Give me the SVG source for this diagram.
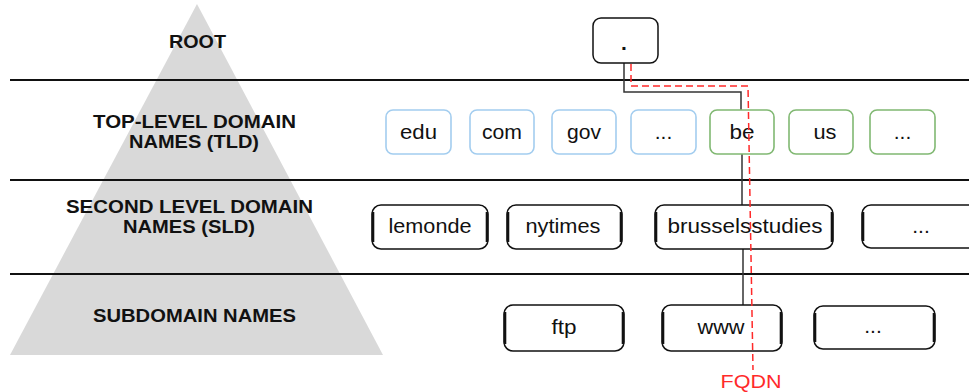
<svg xmlns="http://www.w3.org/2000/svg" width="969" height="392" viewBox="0 0 969 392">
<style>
.lbl{font-family:"Liberation Sans",Arial,sans-serif;font-weight:bold;font-size:18px;fill:#111;text-anchor:middle}
.t{font-family:"Liberation Sans",Arial,sans-serif;font-size:21px;fill:#111;text-anchor:middle}
.sep{stroke:#111;stroke-width:2;fill:none}
.blue{fill:#fff;stroke:#a3cdef;stroke-width:1.6}
.green{fill:#fff;stroke:#80b872;stroke-width:1.6}
.blk{fill:#fff;stroke:#111;stroke-width:1.5}
.side{stroke:#111;stroke-width:2.6;fill:none}
.conn{stroke:#333;stroke-width:1.5;fill:none}
.fq{stroke:#ff2a2a;stroke-width:1.5;fill:none;stroke-dasharray:7,4}
</style>
<rect width="969" height="392" fill="#fff"/>
<polygon points="197,4 10,355 383,355" fill="#d9d9d9"/>
<g id="separators">
<line class="sep" x1="10" y1="80" x2="969" y2="80"/>
<line class="sep" x1="10" y1="180" x2="969" y2="180"/>
<line class="sep" x1="10" y1="274" x2="969" y2="274"/>
</g>
<g id="level-labels">
<text class="lbl" x="197.5" y="48" textLength="57" lengthAdjust="spacingAndGlyphs">ROOT</text>
<text class="lbl" x="194.5" y="128" textLength="203" lengthAdjust="spacingAndGlyphs">TOP-LEVEL DOMAIN</text>
<text class="lbl" x="194" y="148" textLength="130" lengthAdjust="spacingAndGlyphs">NAMES (TLD)</text>
<text class="lbl" x="189.5" y="213" textLength="247" lengthAdjust="spacingAndGlyphs">SECOND LEVEL DOMAIN</text>
<text class="lbl" x="189" y="233" textLength="132" lengthAdjust="spacingAndGlyphs">NAMES (SLD)</text>
<text class="lbl" x="194.5" y="322" textLength="203" lengthAdjust="spacingAndGlyphs">SUBDOMAIN NAMES</text>
</g>
<g id="connectors">
<path class="conn" d="M624,63 V92 H741 V110"/>
<path class="conn" d="M742,154 V205"/>
<path class="conn" d="M743,249 V305"/>
</g>
<g id="root"><rect class="blk" x="593" y="18" width="65" height="45" rx="8"/><text class="t" x="624" y="50" font-weight="bold">.</text></g>
<g id="tld-edu"><rect class="blue" x="386" y="110" width="65" height="44" rx="7"/><text class="t" x="418.5" y="139" textLength="37" lengthAdjust="spacingAndGlyphs">edu</text></g>
<g id="tld-com"><rect class="blue" x="470" y="110" width="64" height="44" rx="7"/><text class="t" x="502" y="139" textLength="40" lengthAdjust="spacingAndGlyphs">com</text></g>
<g id="tld-gov"><rect class="blue" x="552" y="110" width="64" height="44" rx="7"/><text class="t" x="584" y="139" textLength="34" lengthAdjust="spacingAndGlyphs">gov</text></g>
<g id="tld-more1"><rect class="blue" x="631" y="110" width="65" height="44" rx="7"/><text class="t" x="663.5" y="139" font-size="18">...</text></g>
<g id="tld-be"><rect class="green" x="710" y="110" width="64" height="44" rx="7"/><text class="t" x="742" y="139" textLength="25" lengthAdjust="spacingAndGlyphs">be</text></g>
<g id="tld-us"><rect class="green" x="789" y="110" width="64" height="44" rx="7"/><text class="t" x="825" y="139" textLength="23" lengthAdjust="spacingAndGlyphs">us</text></g>
<g id="tld-more2"><rect class="green" x="870" y="110" width="65" height="44" rx="7"/><text class="t" x="902.5" y="139" font-size="18">...</text></g>
<g id="sld-lemonde"><rect class="blk" x="372" y="205" width="116" height="44" rx="9"/><path class="side" d="M373,212 V242 M487,212 V242"/><text class="t" x="430" y="233" textLength="83" lengthAdjust="spacingAndGlyphs">lemonde</text></g>
<g id="sld-nytimes"><rect class="blk" x="507" y="205" width="115" height="44" rx="9"/><path class="side" d="M508,212 V242 M621,212 V242"/><text class="t" x="563" y="233" textLength="75" lengthAdjust="spacingAndGlyphs">nytimes</text></g>
<g id="sld-brusselsstudies"><rect class="blk" x="655" y="205" width="178" height="44" rx="9"/><path class="side" d="M656,212 V242 M832,212 V242"/><text class="t" x="745" y="233" textLength="155" lengthAdjust="spacingAndGlyphs">brusselsstudies</text></g>
<g id="sld-more"><rect class="blk" x="862" y="205" width="118" height="43" rx="9"/><path class="side" d="M863,212 V241"/><text class="t" x="921" y="233" font-size="18">...</text></g>
<g id="sub-ftp"><rect class="blk" x="504" y="305" width="120" height="46" rx="9"/><path class="side" d="M505,312 V344 M623,312 V344"/><text class="t" x="564" y="334" textLength="25" lengthAdjust="spacingAndGlyphs">ftp</text></g>
<g id="sub-www"><rect class="blk" x="662" y="305" width="120" height="46" rx="9"/><path class="side" d="M663,312 V344 M781,312 V344"/><text class="t" x="721" y="334" textLength="47" lengthAdjust="spacingAndGlyphs">www</text></g>
<g id="sub-more"><rect class="blk" x="814" y="306" width="121" height="43" rx="9"/><path class="side" d="M815,313 V342 M934,313 V342"/><text class="t" x="873" y="333" font-size="18">...</text></g>
<g id="fqdn">
<path class="fq" d="M631,64 V86 H748 L753,370"/>
<text x="751" y="388" font-family="'Liberation Sans',Arial,sans-serif" font-size="19" fill="#ff2a2a" text-anchor="middle" textLength="61" lengthAdjust="spacingAndGlyphs">FQDN</text>
</g>
</svg>
